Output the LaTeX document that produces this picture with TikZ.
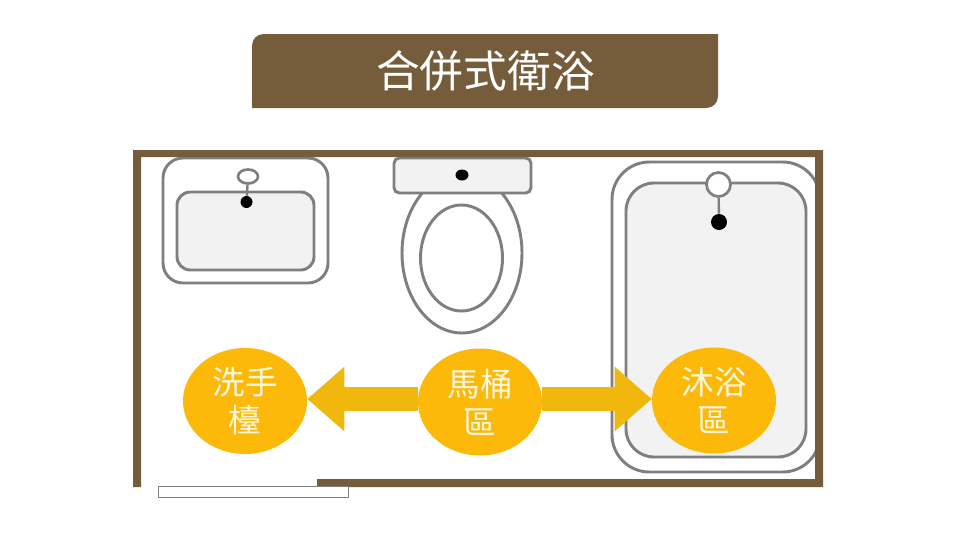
\documentclass[tikz,border=0pt]{standalone}
\usepackage{fontspec}
\newfontfamily\cjk{Noto Sans CJK TC}
\usetikzlibrary{shapes.geometric,arrows.meta}
\definecolor{wallbrown}{HTML}{755C3B}
\definecolor{fixgray}{HTML}{7F7F7F}
\definecolor{basin}{HTML}{F2F2F2}
\definecolor{zonegold}{HTML}{FDB90A}
\definecolor{arrowgold}{HTML}{F0B80C}
\definecolor{zonetext}{HTML}{FFF7DC}
\tikzset{
  fixture/.style={draw=fixgray,line width=2.2pt},
  tapring/.style={ellipse,draw=fixgray,fill=white,line width=2pt,inner sep=0pt},
  drain/.style={ellipse,fill=black,inner sep=0pt},
  tapline/.style={draw=fixgray,line width=1.8pt},
  zone/.style={ellipse,fill=zonegold,text=zonetext,inner sep=0pt,align=center,
    minimum width=93pt,minimum height=79.5pt,font=\cjk\fontsize{24.4}{28.5}\selectfont},
  flow/.style={draw=arrowgold,line width=18pt,-{Triangle[length=27.75pt,width=46.5pt]}},
}
\begin{document}
\begin{tikzpicture}[x=0.75pt,y=-0.75pt]
\useasboundingbox (0,0) rectangle (960,543);
\fill[white] (0,0) rectangle (960,543);
% title
\fill[wallbrown] (252,108) -- (706,108) .. controls (713,108) and (718,103) .. (718,96) -- (718,34) -- (264,34) .. controls (257,34) and (252,39) .. (252,46) -- cycle;
\node[text=white,inner sep=0pt,font=\cjk\fontsize{32.8}{36}\selectfont] (title) at (485.5,71) {合併式衛浴};
% sink
\draw[fixture,rounded corners=15pt] (163,158) rectangle (328,283);
\draw[fixture,fill=basin,rounded corners=10pt] (177,192) rectangle (314,270);
\node[tapring,minimum width=15pt,minimum height=10.5pt] (sinktap) at (248,176.5) {};
\node[drain,minimum width=9pt,minimum height=9pt] (sinkdrain) at (246.5,202) {};
\draw[tapline] (sinktap) -- (sinkdrain);
% toilet
\draw[fixture] (462,253) ellipse[x radius=60,y radius=80];
\draw[fixture] (461.5,258) ellipse[x radius=41,y radius=53];
\draw[fixture,fill=basin,rounded corners=4pt] (394,158) rectangle (531,193);
\node[drain,minimum width=9.75pt,minimum height=8.25pt] (toiletdrain) at (462,175) {};
% bathtub
\draw[fixture,rounded corners=28pt] (612,162) rectangle (820,472);
\draw[fixture,fill=basin,rounded corners=21pt] (626,183) rectangle (806,457);
\node[drain,minimum width=12pt,minimum height=12pt] (tubdrain) at (719,222) {};
\node[tapring,minimum width=18pt,minimum height=18pt] (tubtap) at (718.5,184.5) {};
\draw[tapline] (tubtap) -- (tubdrain);
% walls
\fill[wallbrown] (317,487) -- (823,487) -- (823,150) -- (133,150) -- (133,487) -- (141,487) -- (141,157) -- (815,157) -- (815,479) -- (317,479) -- cycle;
\draw[draw=fixgray,fill=white,line width=0.75pt] (158,486) rectangle (348,497);
% zones
\node[zone] (handwash) at (245,401) {洗手\\檯};
\node[zone,minimum height=80.25pt] (toilet) at (480,402) {馬桶\\區};
\node[zone] (shower) at (714,400.5) {沐浴\\區};
\coordinate (flowaxis) at (480,399);
\draw[flow] (toilet.west |- flowaxis) -- (handwash.east |- flowaxis);
\draw[flow] (toilet.east |- flowaxis) -- (shower.west |- flowaxis);
\end{tikzpicture}
\end{document}
